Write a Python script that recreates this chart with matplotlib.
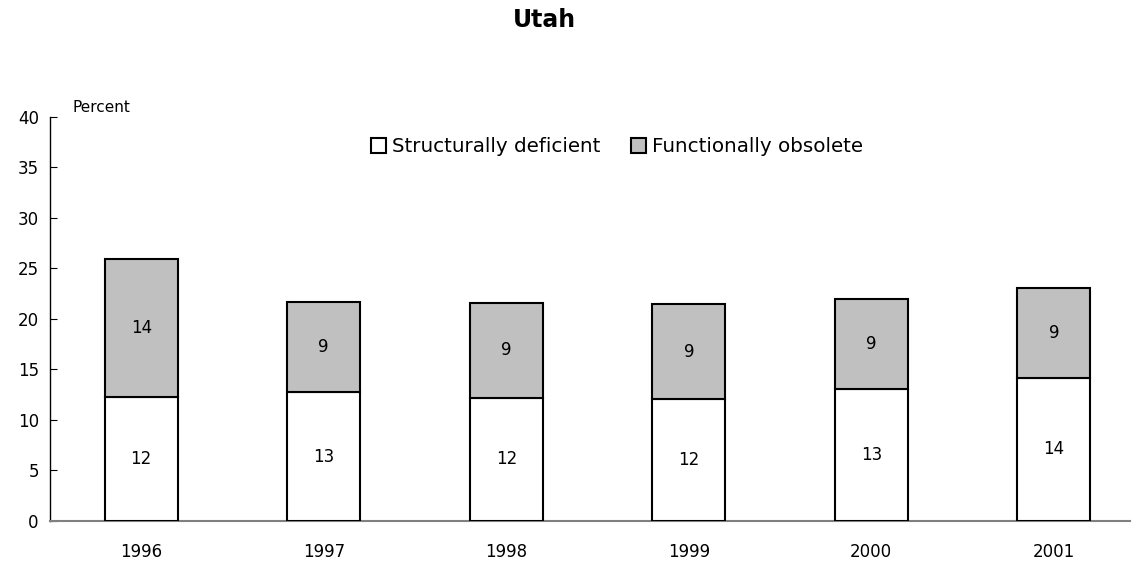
import matplotlib
matplotlib.use("Agg")
import matplotlib.pyplot as plt
import numpy as np

years = ["1996", "1997", "1998", "1999", "2000", "2001"]
structurally_deficient = [12.3, 12.75, 12.2, 12.1, 13.05, 14.2]
functionally_obsolete = [13.6, 8.95, 9.4, 9.35, 8.9, 8.9]
sd_labels = ["12", "13", "12", "12", "13", "14"]
fo_labels = ["14", "9", "9", "9", "9", "9"]

plt.rcParams['font.family'] = ['DejaVu Sans']

fig = plt.figure(figsize=(11.38, 5.62), dpi=100)
ax = fig.add_axes([0.0439, 0.073, 0.9495, 0.719])

x = np.arange(len(years))
w = 0.4
ax.bar(x, structurally_deficient, w, color="white", edgecolor="black", linewidth=1.5,
       label="Structurally deficient", zorder=3)
ax.bar(x, functionally_obsolete, w, bottom=structurally_deficient, color="#c0c0c0",
       edgecolor="black", linewidth=1.5, label="Functionally obsolete", zorder=3)

for i in range(len(years)):
    sd = structurally_deficient[i]
    fo = functionally_obsolete[i]
    ax.text(x[i], sd / 2, sd_labels[i], ha="center", va="center", fontsize=12)
    ax.text(x[i], sd + fo / 2, fo_labels[i], ha="center", va="center", fontsize=12)

ax.set_xlim(-0.5, 5.42)
ax.set_ylim(0, 40)
ax.set_yticks(np.arange(0, 41, 5))
ax.set_xticks(x)
ax.set_xticklabels(years, fontsize=12)
ax.tick_params(axis="y", direction="in", length=5, labelsize=12, pad=8)
ax.tick_params(axis="x", length=0, pad=16)
ax.spines["top"].set_visible(False)
ax.spines["right"].set_visible(False)
ax.spines["bottom"].set_color("#808080")
ax.spines["bottom"].set_linewidth(1.5)
ax.spines["left"].set_linewidth(1.0)

fig.text(72 / 1138, 1 - 108 / 562, "Percent", fontsize=11, ha="left", va="center")
fig.text(544 / 1138, 1 - 20 / 562, "Utah", fontsize=17, fontweight="bold", ha="center", va="center")

ax.legend(loc="center", bbox_to_anchor=(617 / 1138, 1 - 147 / 562), bbox_transform=fig.transFigure,
          ncol=2, frameon=False, fontsize=14.3, handlelength=0.8, handleheight=0.8,
          handletextpad=0.3, columnspacing=1.5)

fig.savefig("out.png", dpi=100)
